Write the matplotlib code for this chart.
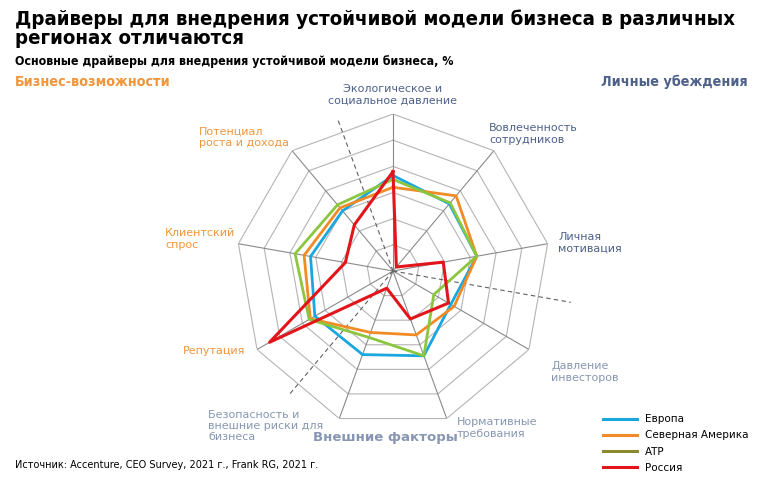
import numpy as np
import matplotlib.pyplot as plt
from matplotlib.lines import Line2D
from matplotlib import font_manager

# ── Data ──────────────────────────────────────────────────────────────────────
axes_labels = ["Экологическое и\nсоциальное давление",
               "Вовлеченность\nсотрудников",
               "Личная\nмотивация",
               "Давление\nинвесторов",
               "Нормативные\nтребования",
               "Безопасность и\nвнешние риски для\nбизнеса",
               "Репутация",
               "Клиентский\nспрос",
               "Потенциал\nроста и дохода"]
series_names = ["Европа", "Северная Америка", "АТР", "Россия"]
europe = [36.5, 33.5, 32.5, 25.5, 34.5, 34, 34.5, 32, 30]
north_america = [32, 37.5, 32.5, 27, 26, 25, 36.5, 34.5, 31.5]
apac = [35, 34, 32.5, 18, 34.5, 27, 37, 38, 33]
russia = [38, 2, 19.5, 24.5, 19.5, 7, 54.5, 18.5, 23]
rmax = 60
rings = [10, 20, 30, 40, 50, 60]

C_BLUE = "#1aa7df"; C_ORANGE = "#f08b25"; C_GREEN = "#8cc63f"; C_RED = "#e3151b"
C_OLIVE = "#8c8a2e"
C_PERS = "#4e6189"; C_BIZ = "#f0963c"; C_EXT = "#8797b2"

# zúžené písmo, pokud je k dispozici
names = {f.name for f in font_manager.fontManager.ttflist}
narrow = [f for f in ["Liberation Sans Narrow", "DejaVu Sans"] if f in names]
cond = any(f.name == "DejaVu Sans" and f.stretch in ("condensed", 87.5, "semi-condensed")
           for f in font_manager.fontManager.ttflist)
k = 1.0 if (cond or "Liberation Sans Narrow" in names) else 0.86

W, H = 768, 490
fig = plt.figure(figsize=(W / 100, H / 100), dpi=100)

def fx(px): return px / W
def fy(py): return 1 - py / H

# polar axes: centre (393, 271) px, radius 157 px
cx, cy, R = 393, 271, 157
ax = fig.add_axes([fx(cx - R), fy(cy + R), 2 * R / W, 2 * R / H],
                  projection="polar")
ax.set_theta_zero_location("N")
ax.set_theta_direction(-1)
ax.set_ylim(0, rmax)
ax.set_axis_off()

n = len(axes_labels)
theta = np.arange(n) * 2 * np.pi / n
tc = np.append(theta, theta[0])

# mřížka — devítiúhelníky + paprsky
for r in rings:
    ax.plot(tc, [r] * (n + 1), color="#b4b4b4", lw=0.8, zorder=1)
for t in theta:
    ax.plot([t, t], [0, rmax], color="#8a8a8a", lw=0.8, zorder=1)

# přerušované dělicí paprsky skupin
for deg, rr in [(340, 62), (100, 69), (220, 62)]:
    ax.plot([np.deg2rad(deg)] * 2, [0, rr], color="#606060", lw=0.8,
            ls=(0, (4, 3)), zorder=1, clip_on=False)

for vals, col, lw in [(europe, C_BLUE, 2.0), (north_america, C_ORANGE, 2.0),
                      (apac, C_GREEN, 2.0), (russia, C_RED, 2.2)]:
    ax.plot(tc, vals + vals[:1], color=col, lw=lw, zorder=3, clip_on=False)

# ── Popisky os ────────────────────────────────────────────────────────────────
lab_pos = [(393, 95, "center", C_PERS), (489, 134, "left", C_PERS),
           (558, 243, "left", C_PERS), (551, 372, "left", C_EXT),
           (457, 428, "left", C_EXT), (208, 426, "left", C_EXT),
           (245, 351, "right", C_BIZ), (165, 239, "left", C_BIZ),
           (199, 137, "left", C_BIZ)]
for lab, (x, y, ha, col) in zip(axes_labels, lab_pos):
    fig.text(fx(x), fy(y), lab, ha=ha, va="center", fontsize=8, color=col,
             linespacing=1.15)

nf = dict(family=narrow, fontstretch="condensed", fontweight="bold")
fig.text(fx(15), fy(82), "Бизнес-возможности", color=C_BIZ, fontsize=10.3 * k,
         va="center", **nf)
fig.text(fx(748), fy(82), "Личные убеждения", color=C_PERS, fontsize=10.3 * k,
         va="center", ha="right", **nf)
fig.text(fx(385), fy(438), "Внешние факторы", color=C_EXT, fontsize=9.5,
         fontweight="bold", va="center", ha="center")

# ── Titulek ───────────────────────────────────────────────────────────────────
fig.text(fx(15), fy(9), "Драйверы для внедрения устойчивой модели бизнеса в различных\nрегионах отличаются",
         ha="left", va="top", fontsize=14.7 * k, linespacing=1.05, **nf)
fig.text(fx(15), fy(62), "Основные драйверы для внедрения устойчивой модели бизнеса, %",
         ha="left", va="center", fontsize=8.9 * k, **nf)
fig.text(fx(15), fy(465), "Источник: Accenture, CEO Survey, 2021 г., Frank RG, 2021 г.",
         ha="left", va="center", fontsize=7)

# ── Legenda ───────────────────────────────────────────────────────────────────
handles = [Line2D([], [], color=c, lw=2.2)
           for c in [C_BLUE, C_ORANGE, C_OLIVE, C_RED]]
fig.legend(handles, series_names, loc="upper left",
           bbox_to_anchor=(fx(599), fy(410)), frameon=False, fontsize=7.5,
           handlelength=3.2, handletextpad=0.8, labelspacing=0.6,
           borderaxespad=0)

fig.savefig("out.png", dpi=100)
